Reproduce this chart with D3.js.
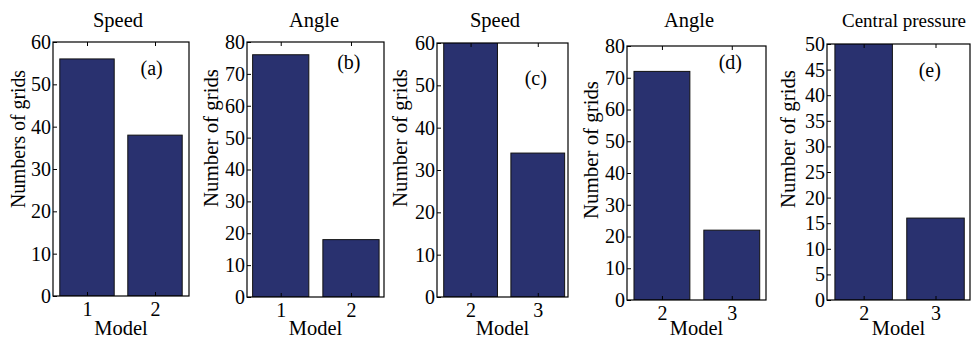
<!DOCTYPE html>
<html>
<head>
<meta charset="utf-8">
<script src="https://cdn.jsdelivr.net/npm/d3@7"></script>
<style>
  body { margin: 0; background: #fff; }
  svg text { font-family: "Liberation Serif", "DejaVu Serif", serif; fill: #000; }
</style>
</head>
<body>
<div id="chart"></div>
<script>
// values
const titles = ["Speed", "Angle", "Speed", "Angle", "Central pressure"];
const panelTags = ["(a)", "(b)", "(c)", "(d)", "(e)"];
const models = [[1, 2], [1, 2], [2, 3], [2, 3], [2, 3]];
const gridCounts = [[56, 38], [76, 18], [62, 34], [72, 22], [53, 16]];
const yMax = [60, 80, 60, 80, 50];
const yStep = [10, 10, 10, 10, 5];
const yLabels = ["Numbers of grids", "Number of grids", "Number of grids", "Number of grids", "Number of grids"];
const xLabel = "Model";

// panel boxes (pixels) and x limits
const layout = [
    {left: 53, right: 189, top: 42, bottom: 296, xlim: [0.5, 2.5], titleX: 118, titleSize: 20.5, tag: [1.95, 68], ylab: [18, 139]},
    {left: 247, right: 384, top: 42, bottom: 297, xlim: [0.52, 2.47], titleX: 314, titleSize: 20.5, tag: [1.97, 62], ylab: [211, 138]},
    {left: 437, right: 568, top: 43, bottom: 297, xlim: [1.5, 3.45], titleX: 495, titleSize: 20.5, tag: [2.97, 78], ylab: [400, 138]},
    {left: 627, right: 766, top: 46, bottom: 300, xlim: [1.5, 3.49], titleX: 689, titleSize: 20.5, tag: [2.98, 62], ylab: [591, 150]},
    {left: 827, right: 970, top: 44, bottom: 300, xlim: [1.49, 3.48], titleX: 904, titleSize: 19, tag: [2.92, 70], ylab: [788, 139]}
];

const barColor = "#29316f";

const svg = d3.select("#chart").append("svg")
    .attr("width", 973)
    .attr("height", 338);

layout.forEach((p, i) => {
    const x = d3.scaleLinear().domain(p.xlim).range([p.left, p.right]);
    const y = d3.scaleLinear().domain([0, yMax[i]]).range([p.bottom, p.top]);
    const g = svg.append("g");

    g.append("defs").append("clipPath")
        .attr("id", "clip" + i)
    .append("rect")
        .attr("x", p.left)
        .attr("y", p.top)
        .attr("width", p.right - p.left)
        .attr("height", p.bottom - p.top);

    const data = models[i].map((m, j) => ({m: m, v: gridCounts[i][j]}));

    g.append("g")
        .attr("clip-path", `url(#clip${i})`)
        .selectAll("rect")
        .data(data)
        .join("rect")
        .attr("x", d => x(d.m - 0.4))
        .attr("width", d => x(d.m + 0.4) - x(d.m - 0.4))
        .attr("y", d => y(d.v))
        .attr("height", d => y(0) - y(d.v))
        .attr("fill", barColor)
        .attr("stroke", "#111")
        .attr("stroke-width", 1);

    // y axis, ticks inward
    const yAxis = g.append("g")
        .attr("transform", `translate(${p.left},0)`)
        .call(d3.axisLeft(y).tickValues(d3.range(0, yMax[i] + 0.1, yStep[i])).tickSize(-4).tickPadding(2));
    yAxis.select(".domain").remove();
    yAxis.selectAll("text").attr("font-size", 20);
    yAxis.selectAll("line").attr("stroke", "#000");

    // x axis bottom
    const xAxis = g.append("g")
        .attr("transform", `translate(0,${p.bottom})`)
        .call(d3.axisBottom(x).tickValues(models[i]).tickFormat(d3.format("d")).tickSize(-4).tickPadding(3));
    xAxis.select(".domain").remove();
    xAxis.selectAll("text").attr("font-size", 20).attr("dy", "0.85em");

    // top ticks
    const topAxis = g.append("g")
        .attr("transform", `translate(0,${p.top})`)
        .call(d3.axisTop(x).tickValues(models[i]).tickFormat("").tickSize(-4));
    topAxis.select(".domain").remove();
    topAxis.selectAll("line").attr("stroke", "#000");

    // frame
    g.append("rect")
        .attr("x", p.left)
        .attr("y", p.top)
        .attr("width", p.right - p.left)
        .attr("height", p.bottom - p.top)
        .attr("fill", "none")
        .attr("stroke", "#000")
        .attr("stroke-width", 1.2);

    g.append("text")
        .attr("x", p.titleX)
        .attr("y", 27)
        .attr("text-anchor", "middle")
        .attr("font-size", p.titleSize)
        .text(titles[i]);

    g.append("text")
        .attr("x", x(p.tag[0]))
        .attr("y", p.tag[1])
        .attr("dy", "0.35em")
        .attr("text-anchor", "middle")
        .attr("font-size", 20)
        .text(panelTags[i]);

    g.append("text")
        .attr("x", (p.left + p.right) / 2)
        .attr("y", 335)
        .attr("text-anchor", "middle")
        .attr("font-size", 20.5)
        .text(xLabel);

    g.append("text")
        .attr("transform", `translate(${p.ylab[0]},${p.ylab[1]}) rotate(-90)`)
        .attr("dy", "0.35em")
        .attr("text-anchor", "middle")
        .attr("font-size", 20)
        .attr("textLength", 138)
        .attr("lengthAdjust", "spacingAndGlyphs")
        .text(yLabels[i]);
});
</script>
</body>
</html>
